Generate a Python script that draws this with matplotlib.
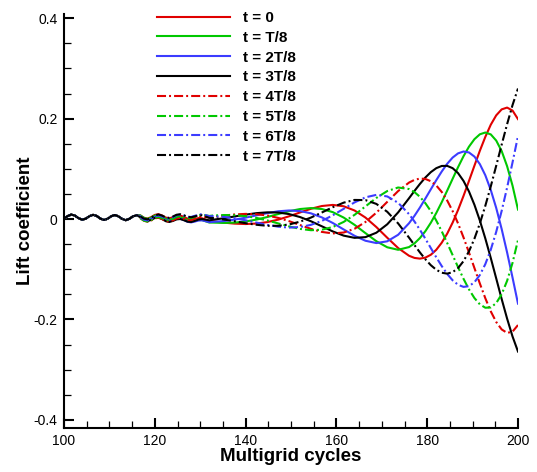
import matplotlib
matplotlib.use("Agg")
import matplotlib.pyplot as plt
from matplotlib.ticker import MultipleLocator, FixedLocator, FixedFormatter

plt.rcParams['font.family'] = ['Liberation Sans', 'DejaVu Sans']
plt.rcParams['axes.unicode_minus'] = False
plt.rcParams['lines.scale_dashes'] = False

# ---- data ----
cycles = [100.0, 100.8, 101.6, 102.4, 103.2, 104.0, 104.8, 105.6, 106.4, 107.2,
          108.0, 108.8, 109.6, 110.4, 111.2, 112.0, 112.8, 113.6, 114.4, 115.2,
          116.0, 116.8, 117.6, 118.4, 119.2, 120.0, 120.8, 121.6, 122.4, 123.2,
          124.0, 124.8, 125.6, 126.4, 127.2, 128.0, 128.8, 129.6, 130.4, 131.2,
          132.0, 132.8, 135.2, 137.6, 140.0, 142.4, 144.8, 147.2, 149.6, 152.0,
          154.4, 156.8, 159.2, 161.6, 164.0, 166.4, 168.8, 171.2, 173.6,
          176.0, 177.2, 178.4, 179.6, 180.8, 182.0, 183.2, 184.4, 185.6, 186.8,
          188.0, 189.2, 190.4, 191.6, 192.8, 194.0, 195.2, 196.4, 197.6, 198.8,
          200.0]

# common start (100 - 116), all curves overlap there
cl_start = [0.0009, 0.0058, 0.0088, 0.0068, 0.0017, -0.0013, 0.0007, 0.0056, 0.0084, 0.0061,
            0.0009, -0.0018, 0.0005, 0.0055, 0.0080, 0.0053, 0.0002, -0.0023, 0.0004, 0.0053,
            0.0075]

cl_t0 = [0.0073, 0.0026, 0.0009, 0.0038, 0.0082, 0.0096, 0.0070, 0.0029, 0.0014, 0.0036,
         0.0065, 0.0069, 0.0042, 0.0006, -0.0008, 0.0003, 0.0018, 0.0015, -0.0012, -0.0041,
         -0.0046, -0.0072, -0.0092, -0.0100, -0.0090, -0.0061, -0.0012, 0.0055, 0.0131, 0.0204,
         0.0259, 0.0281, 0.0254, 0.0170, 0.0029, -0.0160, -0.0373, -0.0578,
         -0.0732, -0.0775, -0.0789, -0.0769, -0.0712, -0.0613, -0.0472, -0.0292, -0.0072, 0.0181,
         0.0461, 0.0758, 0.1062, 0.1360, 0.1636, 0.1878, 0.2065, 0.2184, 0.2220, 0.2160, 0.1990]
cl_t1 = [0.0072, 0.0023, 0.0002, 0.0027, 0.0068, 0.0079, 0.0049, 0.0004, -0.0014, 0.0005,
         0.0032, 0.0033, 0.0004, -0.0033, -0.0048, -0.0036, -0.0020, -0.0021, -0.0045, -0.0070,
         -0.0071, -0.0078, -0.0071, -0.0049, -0.0011, 0.0040, 0.0099, 0.0156, 0.0199, 0.0218,
         0.0199, 0.0137, 0.0029, -0.0116, -0.0281, -0.0442, -0.0563, -0.0613,
         -0.0559, -0.0485, -0.0379, -0.0242, -0.0074, 0.0120, 0.0335, 0.0565, 0.0801, 0.1033,
         0.1251, 0.1441, 0.1590, 0.1688, 0.1723, 0.1686, 0.1563, 0.1354, 0.1052, 0.0663, 0.0188]
cl_t2 = [0.0057, 0.0004, -0.0018, 0.0004, 0.0043, 0.0052, 0.0020, -0.0025, -0.0044, -0.0025,
         0.0003, 0.0005, -0.0021, -0.0056, -0.0067, -0.0051, -0.0030, -0.0026, -0.0044, -0.0063,
         -0.0056, -0.0041, -0.0012, 0.0027, 0.0073, 0.0118, 0.0154, 0.0170, 0.0158, 0.0113,
         0.0032, -0.0079, -0.0208, -0.0334, -0.0433, -0.0479, -0.0444, -0.0314,
         -0.0084, 0.0064, 0.0229, 0.0408, 0.0592, 0.0774, 0.0946, 0.1100, 0.1224, 0.1308,
         0.1345, 0.1326, 0.1244, 0.1093, 0.0872, 0.0579, 0.0221, -0.0199, -0.0666, -0.1168, -0.1686]
cl_t3 = [0.0036, -0.0017, -0.0041, -0.0018, 0.0021, 0.0030, 0.0000, -0.0043, -0.0059, -0.0038,
         -0.0007, 0.0000, -0.0023, -0.0052, -0.0059, -0.0037, -0.0011, -0.0001, -0.0013, -0.0026,
         -0.0014, 0.0015, 0.0051, 0.0087, 0.0117, 0.0133, 0.0129, 0.0098, 0.0039, -0.0045,
         -0.0145, -0.0247, -0.0331, -0.0375, -0.0361, -0.0273, -0.0105, 0.0132,
         0.0414, 0.0560, 0.0699, 0.0827, 0.0934, 0.1013, 0.1057, 0.1059, 0.1013, 0.0914,
         0.0759, 0.0549, 0.0284, -0.0031, -0.0387, -0.0775, -0.1183, -0.1593, -0.1984, -0.2341, -0.2640]
cl_t4 = [0.0018, -0.0034, -0.0055, -0.0030, 0.0012, 0.0025, -0.0001, -0.0041, -0.0052, -0.0026,
         0.0010, 0.0022, 0.0005, -0.0020, -0.0021, 0.0005, 0.0036, 0.0049, 0.0040, 0.0029,
         0.0042, 0.0069, 0.0091, 0.0102, 0.0096, 0.0070, 0.0022, -0.0043, -0.0120, -0.0196,
         -0.0257, -0.0287, -0.0269, -0.0194, -0.0059, 0.0126, 0.0342, 0.0557,
         0.0726, 0.0780, 0.0806, 0.0798, 0.0753, 0.0668, 0.0539, 0.0369, 0.0158, -0.0089,
         -0.0367, -0.0667, -0.0976, -0.1285, -0.1578, -0.1839, -0.2051, -0.2199, -0.2269, -0.2243, -0.2112]
cl_t5 = [0.0017, -0.0032, -0.0050, -0.0022, 0.0024, 0.0040, 0.0018, -0.0018, -0.0026, 0.0003,
         0.0042, 0.0057, 0.0042, 0.0019, 0.0018, 0.0044, 0.0074, 0.0086, 0.0075, 0.0061,
         0.0070, 0.0079, 0.0076, 0.0057, 0.0022, -0.0029, -0.0088, -0.0148, -0.0197, -0.0223,
         -0.0213, -0.0159, -0.0058, 0.0083, 0.0251, 0.0420, 0.0557, 0.0628,
         0.0597, 0.0536, 0.0442, 0.0315, 0.0157, -0.0031, -0.0244, -0.0477, -0.0718, -0.0960,
         -0.1191, -0.1401, -0.1574, -0.1700, -0.1767, -0.1762, -0.1675, -0.1500, -0.1231, -0.0872, -0.0419]
cl_t6 = [0.0033, -0.0013, -0.0028, 0.0003, 0.0051, 0.0070, 0.0049, 0.0014, 0.0007, 0.0036,
         0.0075, 0.0088, 0.0071, 0.0045, 0.0041, 0.0063, 0.0088, 0.0095, 0.0077, 0.0056,
         0.0057, 0.0042, 0.0014, -0.0025, -0.0071, -0.0117, -0.0153, -0.0171, -0.0160, -0.0116,
         -0.0037, 0.0074, 0.0203, 0.0331, 0.0432, 0.0481, 0.0450, 0.0323,
         0.0097, -0.0050, -0.0215, -0.0393, -0.0579, -0.0763, -0.0937, -0.1094, -0.1221, -0.1310,
         -0.1352, -0.1338, -0.1260, -0.1115, -0.0899, -0.0612, -0.0256, 0.0161, 0.0626, 0.1130, 0.1651]
cl_t7 = [0.0052, 0.0007, -0.0007, 0.0024, 0.0072, 0.0090, 0.0068, 0.0032, 0.0023, 0.0050,
         0.0085, 0.0095, 0.0074, 0.0044, 0.0035, 0.0052, 0.0072, 0.0073, 0.0049, 0.0023,
         0.0019, -0.0010, -0.0045, -0.0083, -0.0115, -0.0135, -0.0135, -0.0108, -0.0052, 0.0029,
         0.0130, 0.0235, 0.0326, 0.0380, 0.0377, 0.0301, 0.0144, -0.0088,
         -0.0371, -0.0520, -0.0666, -0.0802, -0.0920, -0.1011, -0.1070, -0.1088, -0.1059, -0.0977,
         -0.0839, -0.0644, -0.0392, -0.0088, 0.0263, 0.0649, 0.1061, 0.1480, 0.1890, 0.2271, 0.2600]

labels = ["t = 0", "t = T/8", "t = 2T/8", "t = 3T/8",
          "t = 4T/8", "t = 5T/8", "t = 6T/8", "t = 7T/8"]
series = [cl_t0, cl_t1, cl_t2, cl_t3, cl_t4, cl_t5, cl_t6, cl_t7]

xticks = [100, 120, 140, 160, 180, 200]
xticklabels = ["100", "120", "140", "160", "180", "200"]
yticks = [-0.4, -0.2, 0.0, 0.2, 0.4]
yticklabels = ["-0.4", "-0.2", "0", "0.2", "0.4"]

# ---- styles ----
colors = ['#e00000', '#00c800', '#3c3cff', '#000000',
          '#e00000', '#00c800', '#3c3cff', '#000000']
dashdot = (0, (6.5, 2.2, 1.4, 2.2))
styles = ['-', '-', '-', '-', dashdot, dashdot, dashdot, dashdot]

fig = plt.figure(figsize=(5.37, 4.72), dpi=100)
ax = fig.add_axes([64 / 537, 44.3 / 472, 454 / 537, 413.7 / 472])

for lab, ys, col, ls in zip(labels, series, colors, styles):
    ax.plot(cycles, cl_start + ys, color=col, linestyle=ls, linewidth=1.5,
            label=lab, dash_capstyle='butt')

ax.set_xlim(100, 200)
ax.set_ylim(-0.4157, 0.4084)

for s in ['top', 'right']:
    ax.spines[s].set_visible(False)
for s in ['left', 'bottom']:
    ax.spines[s].set_linewidth(1.5)

ax.xaxis.set_major_locator(FixedLocator(xticks))
ax.xaxis.set_major_formatter(FixedFormatter(xticklabels))
ax.yaxis.set_major_locator(FixedLocator(yticks))
ax.yaxis.set_major_formatter(FixedFormatter(yticklabels))
ax.xaxis.set_minor_locator(MultipleLocator(5))
ax.yaxis.set_minor_locator(MultipleLocator(0.05))
ax.tick_params(which='major', direction='in', length=7.2, width=1.5,
               labelsize=10, pad=4.5)
ax.tick_params(which='minor', direction='in', length=5.0, width=0.9)

ax.set_xlabel("Multigrid cycles", fontsize=13.5, fontweight='bold', labelpad=0)
ax.set_ylabel("Lift coefficient", fontsize=13.5, fontweight='bold', labelpad=0)

leg = ax.legend(loc='upper left', bbox_to_anchor=(157 / 537, 1 - 11 / 472),
                bbox_transform=fig.transFigure, frameon=False,
                handlelength=4.8, handletextpad=0.8, labelspacing=0.38,
                borderpad=0, borderaxespad=0,
                prop={'weight': 'bold', 'size': 11})

fig.savefig("out.png", dpi=100)
